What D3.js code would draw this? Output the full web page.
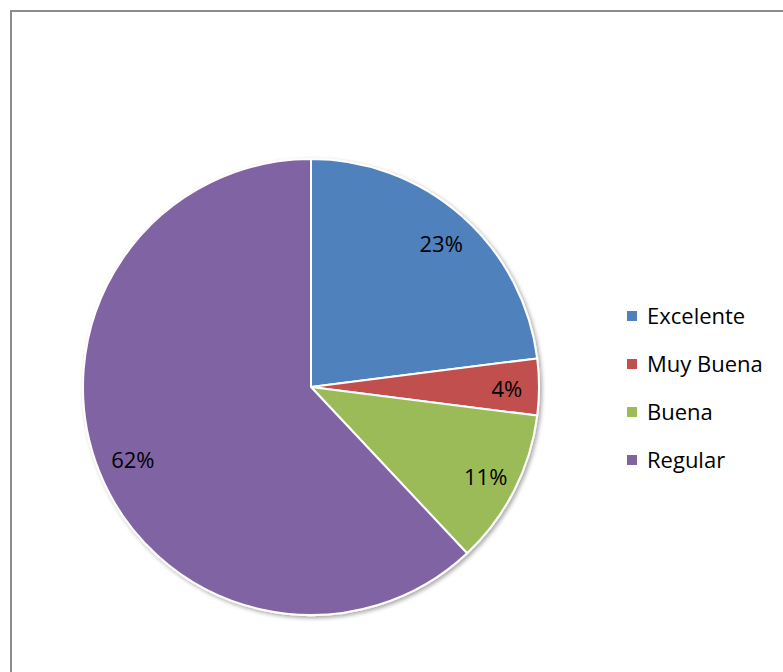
<!DOCTYPE html>
<html>
<head>
<meta charset="utf-8">
<script src="https://cdn.jsdelivr.net/npm/d3@7/dist/d3.min.js"></script>
<style>
  html, body { margin: 0; padding: 0; background: #fff; }
  svg { display: block; }
</style>
</head>
<body>
<svg id="chart" width="783" height="672"></svg>
<script>
const categories = ["Excelente", "Muy Buena", "Buena", "Regular"];
const values = [23, 4, 11, 62];
const labels = ["23%", "4%", "11%", "62%"];
const colors = ["#4F81BD", "#C0504D", "#9BBB59", "#8064A2"];

const svg = d3.select("#chart");
const W = 783, H = 672;
const FONT = "'Open Sans', Lato, 'Liberation Sans', sans-serif";

// chart area border
svg.append("rect")
  .attr("x", 11).attr("y", 11)
  .attr("width", W + 20).attr("height", H + 20)
  .attr("fill", "#fff")
  .attr("stroke", "#8c8c8c")
  .attr("stroke-width", 2);

const defs = svg.append("defs");
const f = defs.append("filter").attr("id", "shadow")
  .attr("x", "-10%").attr("y", "-10%").attr("width", "130%").attr("height", "130%");
f.append("feGaussianBlur").attr("in", "SourceAlpha").attr("stdDeviation", 2).attr("result", "b");
f.append("feOffset").attr("in", "b").attr("dx", 2).attr("dy", 2).attr("result", "o");
f.append("feComponentTransfer").attr("in", "o").attr("result", "o2")
  .append("feFuncA").attr("type", "linear").attr("slope", 0.35);
const m = f.append("feMerge");
m.append("feMergeNode").attr("in", "o2");
m.append("feMergeNode").attr("in", "SourceGraphic");

const cx = 311, cy = 387, R = 228;
const data = categories.map((c, i) => ({ cat: c, value: values[i], label: labels[i], color: colors[i] }));

const pie = d3.pie().value(d => d.value).sort(null);
const arcs = pie(data);
const arc = d3.arc().innerRadius(0).outerRadius(R);
const labelArc = d3.arc().innerRadius(R * 0.85).outerRadius(R * 0.85);

const g = svg.append("g").attr("transform", `translate(${cx},${cy})`);
const slices = g.append("g").attr("filter", "url(#shadow)");
slices.selectAll("path").data(arcs).join("path")
  .attr("d", arc)
  .attr("fill", d => d.data.color)
  .attr("stroke", "#fff")
  .attr("stroke-width", 2)
  .attr("stroke-linejoin", "round");

g.selectAll("text.lbl").data(arcs).join("text")
  .attr("class", "lbl")
  .attr("x", d => labelArc.centroid(d)[0] + 2)
  .attr("y", d => labelArc.centroid(d)[1] + 10)
  .attr("text-anchor", "middle")
  .attr("font-family", FONT)
  .attr("font-size", 22)
  .attr("fill", "#000")
  .text(d => d.data.label);

// legend
const legY = d3.scalePoint().domain(categories).range([316, 460]);
const leg = svg.append("g");
const items = leg.selectAll("g").data(data).join("g")
  .attr("transform", d => `translate(627,${legY(d.cat)})`);
items.append("rect")
  .attr("x", 0).attr("y", -5).attr("width", 10).attr("height", 10)
  .attr("fill", d => d.color);
items.append("text")
  .attr("x", 20).attr("y", 8)
  .attr("font-family", FONT)
  .attr("font-size", 22)
  .attr("fill", "#000")
  .text(d => d.cat);
</script>
</body>
</html>
